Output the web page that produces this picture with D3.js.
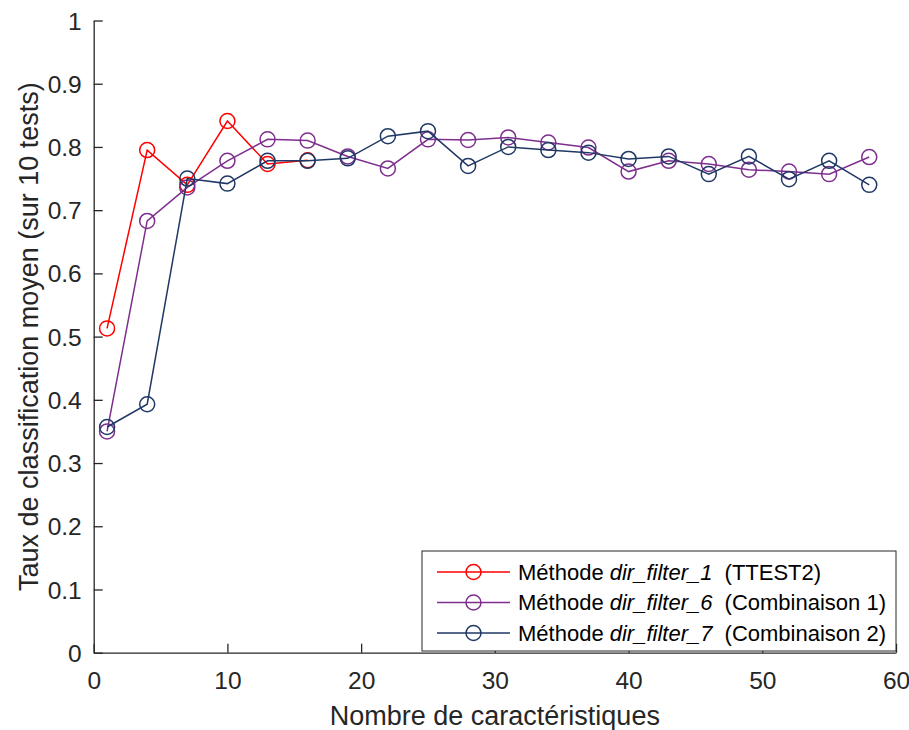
<!DOCTYPE html>
<html>
<head>
<meta charset="utf-8">
<script src="https://cdn.jsdelivr.net/npm/d3@7"></script>
<style>
  body { margin: 0; background: #fff; }
  svg { font-family: "Liberation Sans", Arial, sans-serif; }
</style>
</head>
<body>
<div class="main"></div>
<script>
// Données
const xFilter1 = [1, 4, 7, 10, 13, 16];
const yFilter1 = [0.513, 0.795, 0.740, 0.841, 0.773, 0.779];

const xFilter67 = [1, 4, 7, 10, 13, 16, 19, 22, 25, 28, 31, 34, 37, 40, 43, 46, 49, 52, 55, 58];
const yFilter6 = [0.350, 0.683, 0.736, 0.778, 0.812, 0.810, 0.785, 0.766, 0.812, 0.811,
                  0.815, 0.807, 0.799, 0.761, 0.778, 0.773, 0.764, 0.761, 0.757, 0.784];
const yFilter7 = [0.357, 0.393, 0.750, 0.742, 0.778, 0.778, 0.782, 0.817, 0.825, 0.770,
                  0.800, 0.795, 0.791, 0.781, 0.785, 0.757, 0.785, 0.749, 0.778, 0.740];

const xTicks = [0, 10, 20, 30, 40, 50, 60];
const yTicks = [0, 0.1, 0.2, 0.3, 0.4, 0.5, 0.6, 0.7, 0.8, 0.9, 1];

const seriesNames = ["dir_filter_1", "dir_filter_6", "dir_filter_7"];
const seriesNotes = ["(TTEST2)", "(Combinaison 1)", "(Combinaison 2)"];
const seriesColors = ["#ff0000", "#7e2f8e", "#1f3864"];

// Dimensions et marges
const margin = { top: 20.5, right: 13, bottom: 77.3, left: 93.7 };
const width = 909 - margin.left - margin.right;
const height = 730 - margin.top - margin.bottom;

const svg = d3.select('.main')
              .append('svg')
                  .attr('width', 909)
                  .attr('height', 730)
              .append("g")
                  .attr("transform", "translate(" + margin.left + "," + margin.top + ")");

const x = d3.scaleLinear().domain([0, 60]).range([0, width]);
const y = d3.scaleLinear().domain([0, 1]).range([height, 0]);

const axisColor = "#262626";

// Axe x
const gx = svg.append("g")
    .attr("transform", "translate(0," + height + ")")
    .call(d3.axisBottom(x).tickValues(xTicks).tickSizeInner(-9).tickSizeOuter(0).tickPadding(19)
          .tickFormat(d3.format("d")));
// Axe y
const gy = svg.append("g")
    .call(d3.axisLeft(y).tickValues(yTicks).tickSizeInner(-9).tickSizeOuter(0).tickPadding(12)
          .tickFormat(d => d === 0 || d === 1 ? String(d) : d3.format(".1f")(d)));

[gx, gy].forEach(g => {
  g.select(".domain").attr("stroke", axisColor).attr("stroke-width", 1.3);
  g.selectAll(".tick line").attr("stroke", axisColor).attr("stroke-width", 1.3);
  g.selectAll(".tick text").attr("fill", axisColor).style("font-size", "24.5px")
    .style("font-family", "Liberation Sans, Arial, sans-serif");
});
gy.selectAll(".tick text").attr("dy", "0.35em");

// Courbes
const series = [
  xFilter1.map((d, i) => ({ x: d, y: yFilter1[i] })),
  xFilter67.map((d, i) => ({ x: d, y: yFilter6[i] })),
  xFilter67.map((d, i) => ({ x: d, y: yFilter7[i] }))
];

const line = d3.line().x(d => x(d.x)).y(d => y(d.y));

series.forEach((s, k) => {
  svg.append("path")
     .datum(s)
     .attr("fill", "none")
     .attr("stroke", seriesColors[k])
     .attr("stroke-width", 1.5)
     .attr("d", line);
  svg.selectAll(null)
     .data(s)
     .enter().append("circle")
     .attr("cx", d => x(d.x))
     .attr("cy", d => y(d.y))
     .attr("r", 7.5)
     .attr("fill", "none")
     .attr("stroke", seriesColors[k])
     .attr("stroke-width", 1.5);
});

// Titres des axes
svg.append("text")
   .attr("x", width / 2)
   .attr("y", height + 72)
   .attr("text-anchor", "middle")
   .attr("fill", axisColor)
   .style("font-size", "27px")
   .text("Nombre de caractéristiques");

svg.append("text")
   .attr("transform", "rotate(-90)")
   .attr("x", -height / 2)
   .attr("y", -56)
   .attr("text-anchor", "middle")
   .attr("fill", axisColor)
   .style("font-size", "27px")
   .text("Taux de classification moyen (sur 10 tests)");

// Légende
const legX = 422 - margin.left, legY = 551 - margin.top;
const legend = svg.append("g").attr("transform", "translate(" + legX + "," + legY + ")");
legend.append("rect")
      .attr("width", 474)
      .attr("height", 100)
      .attr("fill", "#fff")
      .attr("stroke", axisColor)
      .attr("stroke-width", 1);

seriesNames.forEach((name, k) => {
  const ry = 21 + k * 30.5;
  legend.append("line")
        .attr("x1", 15).attr("x2", 88).attr("y1", ry).attr("y2", ry)
        .attr("stroke", seriesColors[k]).attr("stroke-width", 1.5);
  legend.append("circle")
        .attr("cx", 51.5).attr("cy", ry).attr("r", 7.5)
        .attr("fill", "none").attr("stroke", seriesColors[k]).attr("stroke-width", 1.5);
  const t = legend.append("text")
        .attr("x", 96).attr("y", ry).attr("dy", "0.35em")
        .attr("fill", "#000")
        .style("font-size", "22px");
  t.append("tspan").text("Méthode ");
  t.append("tspan").style("font-style", "italic").text(name);
  t.append("tspan").attr("dx", 6).text(" " + seriesNotes[k]);
});
</script>
</body>
</html>
